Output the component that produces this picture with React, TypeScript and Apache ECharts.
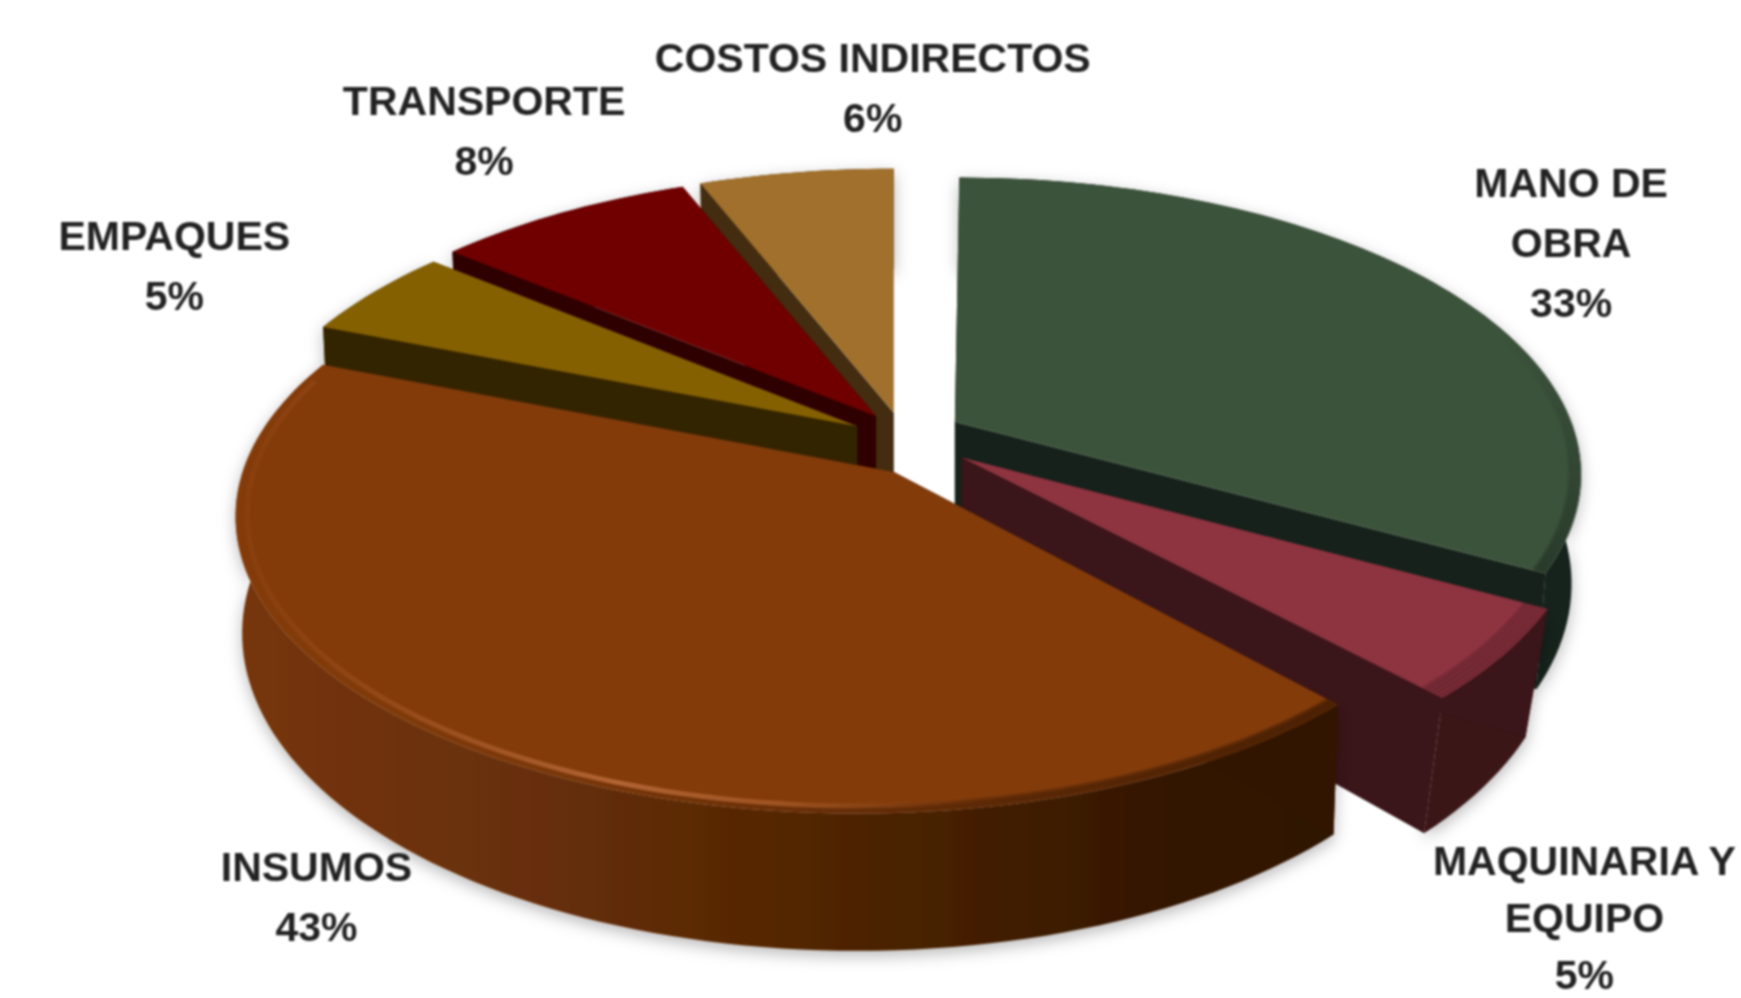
import React, { useEffect, useRef } from "react";
import * as echarts from "echarts";

const categories = ["MANO DE\nOBRA", "MAQUINARIA Y\nEQUIPO", "INSUMOS", "EMPAQUES", "TRANSPORTE", "COSTOS INDIRECTOS"];
const values = [33, 5, 43, 5, 8, 6];
const topColors = ["#3c533b", "#8e3340", "#833b0a", "#846000", "#700000", "#a0702c"];
const wallColors = ["#15211a", "#3a1519", "#321500", "#332400", "#2f0000", "#432c10"];
const paintOrder = [5, 4, 3, 0, 1, 2];

// Layout of the exploded 3D pie (page pixels)
const S = 1741 / 1568;
const CX = 835 * S, CY = 395 * S;
const RX = 551 * S, RY = 259 * S, DEPTH = 106 * S, PERSP = 0.177;
const explodeOffsets = [[25, -15], [31, 17], [-30, 30], [-63, -11], [-46, -20], [-30, -23]];
const arcShiftX = [4, 0, -33, 0, 0, 0];
const arcShiftY = [0, 0, -7, 0, 0, 0];
const depthScale = [0.9, 1, 0.96, 1, 1, 1];
const converge = [0.985, 0.962, 0.99, 0.99, 0.99, 0.99];
const labelAnchors = [[1415, 219], [1427, 827], [285, 808], [157, 240], [436, 118], [786, 79]];
const labelLineHeights = [60, 57, 60, 60, 60, 60];

const total = values.reduce((a, b) => a + b, 0);
const startAngles: number[] = [];
values.reduce((acc, v, i) => { startAngles[i] = (acc / total) * 360; return acc + v; }, 0);

function rimPoint(i: number, deg: number, r: number, low: boolean): number[] {
  const a = (deg * Math.PI) / 180;
  const u = Math.sin(a) * r, v = Math.cos(a) * r;
  const d = 1 + PERSP * v;
  const x = (u * RX) / d + arcShiftX[i] * S;
  const y = (-v * RY) / d + arcShiftY[i] * S;
  const ax = CX + explodeOffsets[i][0] * S, ay = CY + explodeOffsets[i][1] * S;
  return low ? [ax + x * converge[i], ay + y + (DEPTH * depthScale[i]) / d] : [ax + x, ay + y];
}
function apexPoint(i: number, low: boolean): number[] {
  const ax = CX + explodeOffsets[i][0] * S, ay = CY + explodeOffsets[i][1] * S;
  return low ? [ax, ay + DEPTH * depthScale[i]] : [ax, ay];
}
function arc(i: number, from: number, to: number, r: number, low: boolean): number[][] {
  const n = Math.max(2, Math.ceil((to - from) / 1.5));
  const pts: number[][] = [];
  for (let k = 0; k <= n; k++) pts.push(rimPoint(i, from + ((to - from) * k) / n, r, low));
  return pts;
}

function bevelStroke(i: number) {
  if (i === 0) {
    return new echarts.graphic.LinearGradient(0, 0, 0, 1, [
      { offset: 0, color: "rgba(21,33,26,0)" },
      { offset: 0.45, color: "rgba(21,33,26,0.12)" },
      { offset: 1, color: "rgba(21,33,26,0.35)" },
    ]);
  }
  if (i === 1) return "rgba(58,21,25,0.28)";
  return new echarts.graphic.LinearGradient(0, 0, 1, 0, [
    { offset: 0, color: "rgba(110,50,8,0)" },
    { offset: 0.3, color: "rgba(90,40,6,0.12)" },
    { offset: 0.6, color: "rgba(70,30,4,0.3)" },
    { offset: 1, color: "rgba(46,19,0,0.42)" },
  ]);
}

function renderSlice(params: any) {
  const i = paintOrder[params.dataIndex];
  const a1 = startAngles[i];
  const a2 = a1 + (values[i] / total) * 360;
  const top = arc(i, a1, a2, 1, false);
  const low = arc(i, a1, a2, 1, true);
  const wall = wallColors[i];
  const children: any[] = [];

  const wallFill = i === 2
    ? new echarts.graphic.LinearGradient(0, 0, 1, 0, [
        { offset: 0, color: "#763507" },
        { offset: 0.3, color: "#652e07" },
        { offset: 0.6, color: "#4a2205" },
        { offset: 0.85, color: "#331600" },
        { offset: 1, color: "#2e1300" },
      ])
    : wall;

  // outer rim wall, with its soft shadow on the page
  children.push({
    type: "polygon",
    shape: { points: [...top, ...low.slice().reverse()] },
    style: { fill: wallFill, shadowBlur: 16, shadowColor: "rgba(0,0,0,0.28)", shadowOffsetY: 5 },
  });
  // the two cut faces
  [[top[0], low[0]], [top[top.length - 1], low[low.length - 1]]].forEach(([t, l]) => {
    children.push({
      type: "polygon",
      shape: { points: [apexPoint(i, false), t, l, apexPoint(i, true)] },
      style: { fill: wall },
    });
  });
  // top face
  children.push({
    type: "polygon",
    shape: { points: [apexPoint(i, false), ...top] },
    style: { fill: topColors[i] },
  });
  // bevel: the top face fades into the wall colour along the front of the rim
  if (i <= 2) {
    const from = i === 0 ? 70 : a1;
    const to = i === 2 ? 262 : a2;
    const insets = i === 1 ? [0.998, 0.99, 0.982, 0.974, 0.966] : [0.998, 0.993, 0.988, 0.983];
    insets.forEach((r) => {
      children.push({
        type: "polyline",
        shape: { points: arc(i, from, to, r, false) },
        style: { fill: "none", stroke: bevelStroke(i), lineWidth: 5 },
      });
    });
  }
  // light catching the front edge of the biggest slice
  if (i === 2) {
    children.push({
      type: "polyline",
      shape: { points: arc(i, 170, 288, 0.982, false) },
      style: {
        fill: "none",
        lineWidth: 5,
        stroke: new echarts.graphic.LinearGradient(0, 0, 1, 0, [
          { offset: 0, color: "rgba(150,75,22,0.3)" },
          { offset: 0.25, color: "rgba(165,88,38,0.7)" },
          { offset: 0.5, color: "rgba(178,100,52,1)" },
          { offset: 0.72, color: "rgba(170,92,40,0.8)" },
          { offset: 1, color: "rgba(160,80,25,0)" },
        ]),
      },
    });
  }
  return { type: "group", children };
}

function renderLabel(params: any) {
  const i = params.dataIndex;
  return {
    type: "text",
    x: labelAnchors[i][0] * S,
    y: labelAnchors[i][1] * S,
    style: {
      text: `${categories[i]}\n${values[i]}%`,
      fill: "#222222",
      fontFamily: '"Liberation Sans Narrow", "Liberation Sans", sans-serif',
      fontWeight: "bold",
      fontSize: 41,
      lineHeight: labelLineHeights[i],
      align: "center",
      verticalAlign: "middle",
    },
  };
}

export default function App() {
  const ref = useRef<HTMLDivElement>(null);
  useEffect(() => {
    if (!ref.current) return;
    const chart = echarts.init(ref.current, undefined, { renderer: "svg" });
    chart.setOption({
      animation: false,
      backgroundColor: "#ffffff",
      series: [
        {
          type: "custom",
          coordinateSystem: "none",
          silent: true,
          clip: false,
          data: paintOrder.map((i) => values[i]),
          renderItem: renderSlice,
        },
        {
          type: "custom",
          coordinateSystem: "none",
          silent: true,
          clip: false,
          z: 5,
          data: values,
          renderItem: renderLabel,
        },
      ],
    });
    return () => chart.dispose();
  }, []);
  return (
    <div
      ref={ref}
      style={{ position: "fixed", left: 0, top: 0, width: 1741, height: 998, filter: "blur(1.1px)", overflow: "hidden" }}
    />
  );
}
